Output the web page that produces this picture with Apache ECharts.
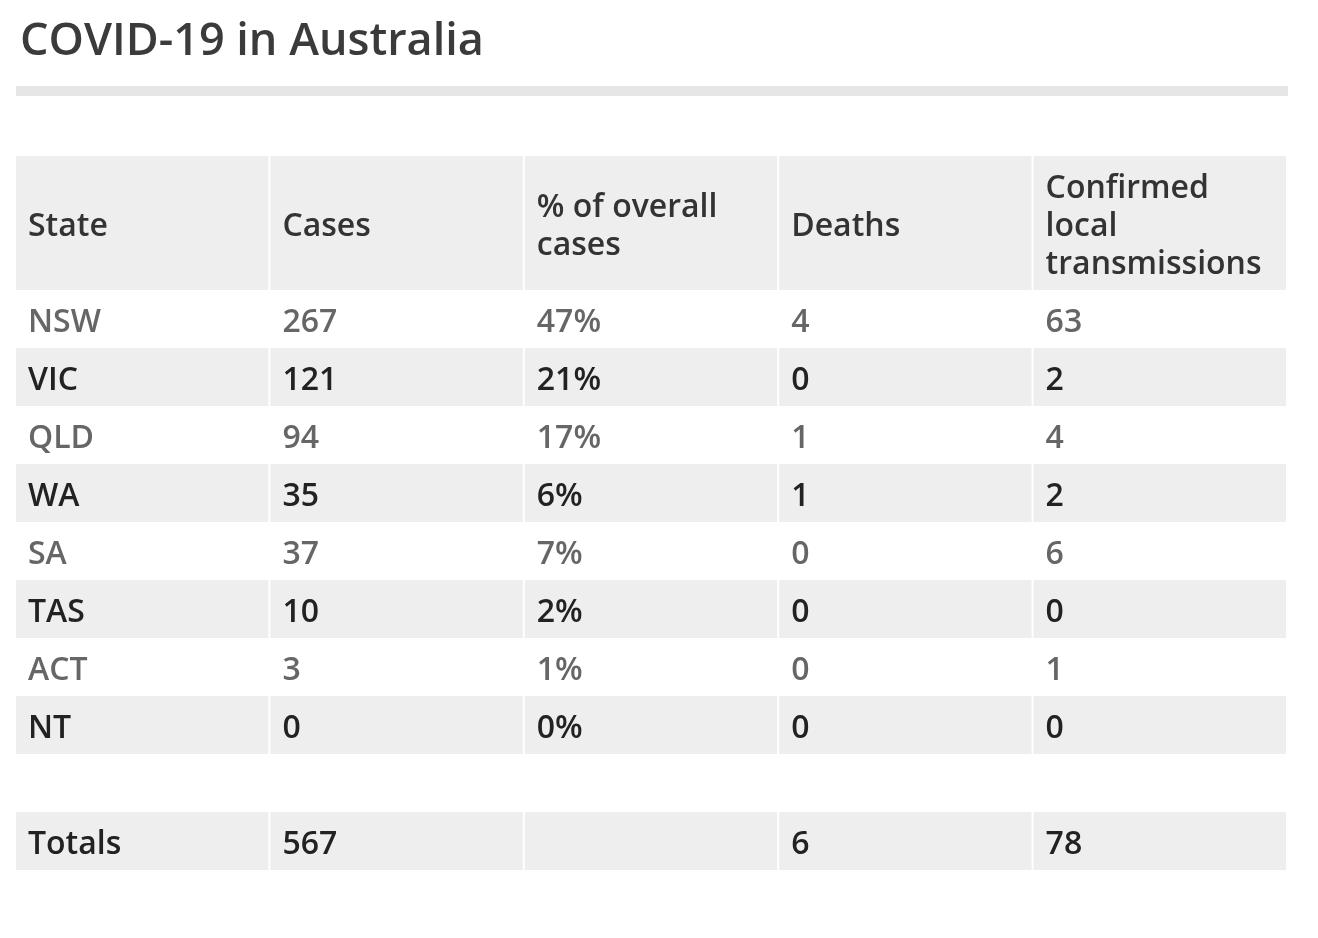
<!DOCTYPE html>
<html>
<head>
<meta charset="utf-8">
<title>COVID-19 in Australia</title>
<script src="https://cdn.jsdelivr.net/npm/echarts@6/dist/echarts.min.js"></script>
<style>
  html, body { margin: 0; padding: 0; background: #fff; }
  #main { width: 1318px; height: 938px; }
</style>
</head>
<body>
<div id="main"></div>
<script>
// table content
const columns = ['State', 'Cases', '% of overall\ncases', 'Deaths', 'Confirmed\nlocal\ntransmissions'];
const states = ['NSW', 'VIC', 'QLD', 'WA', 'SA', 'TAS', 'ACT', 'NT'];
const cases = [267, 121, 94, 35, 37, 10, 3, 0];
const pctOfCases = [47, 21, 17, 6, 7, 2, 1, 0];
const deaths = [4, 0, 1, 1, 0, 0, 0, 0];
const localTransmissions = [63, 2, 4, 2, 6, 0, 1, 0];
const totals = ['Totals', 567, '', 6, 78];

// header is a bit over two body rows tall, then a blank row before totals
const headerSpan = 134 / 58;

const cells = [];
columns.forEach((c, i) => cells.push({ col: i, top: 0, bottom: headerSpan, text: c, kind: 'head' }));
states.forEach((s, r) => {
  const top = headerSpan + r;
  const kind = r % 2 === 0 ? 'light' : 'dark';
  const row = [s, cases[r], pctOfCases[r] + '%', deaths[r], localTransmissions[r]];
  row.forEach((v, i) => cells.push({ col: i, top: top, bottom: top + 1, text: String(v), kind: kind }));
});
const totalsTop = headerSpan + states.length + 1;
totals.forEach((v, i) => cells.push({ col: i, top: totalsTop, bottom: totalsTop + 1, text: String(v), kind: 'total' }));

const textColor = { head: '#333333', light: '#666666', dark: '#222222', total: '#222222' };
const fillColor = { head: '#eeeeee', light: null, dark: '#eeeeee', total: '#eeeeee' };

var myChart = echarts.init(document.getElementById('main'));

myChart.setOption({
  animation: false,
  title: {
    text: 'COVID-19 in Australia',
    left: 15,
    top: 15,
    textStyle: { fontFamily: 'Open Sans', fontSize: 45, fontWeight: 600, color: '#3b3b3b' }
  },
  graphic: [{
    type: 'rect',
    shape: { x: 16, y: 86, width: 1272, height: 10 },
    style: { fill: '#e6e6e6' }
  }],
  grid: { left: 16, right: 30, top: 156, bottom: 68 },
  xAxis: {
    type: 'category',
    data: columns,
    boundaryGap: true,
    show: false
  },
  yAxis: {
    type: 'value',
    inverse: true,
    min: 0,
    max: totalsTop + 1,
    show: false,
    splitLine: { show: false }
  },
  series: [{
    type: 'custom',
    silent: true,
    data: cells.map(c => [c.col, c.top, c.bottom]),
    renderItem: function (params, api) {
      const cell = cells[params.dataIndex];
      const colW = api.size([1, 0])[0];
      const p0 = api.coord([api.value(0), api.value(1)]);
      const p1 = api.coord([api.value(0), api.value(2)]);
      const x = p0[0] - colW / 2;
      const children = [];
      if (fillColor[cell.kind]) {
        children.push({
          type: 'rect',
          shape: { x: x, y: p0[1], width: colW - 2, height: p1[1] - p0[1] },
          style: { fill: fillColor[cell.kind] }
        });
      }
      children.push({
        type: 'text',
        style: {
          x: x + 12,
          y: (p0[1] + p1[1]) / 2 + 4,
          text: cell.text,
          fill: textColor[cell.kind],
          font: '600 32px "Open Sans"',
          lineHeight: 38,
          verticalAlign: 'middle',
          align: 'left'
        }
      });
      return { type: 'group', children: children };
    }
  }]
});
</script>
</body>
</html>
